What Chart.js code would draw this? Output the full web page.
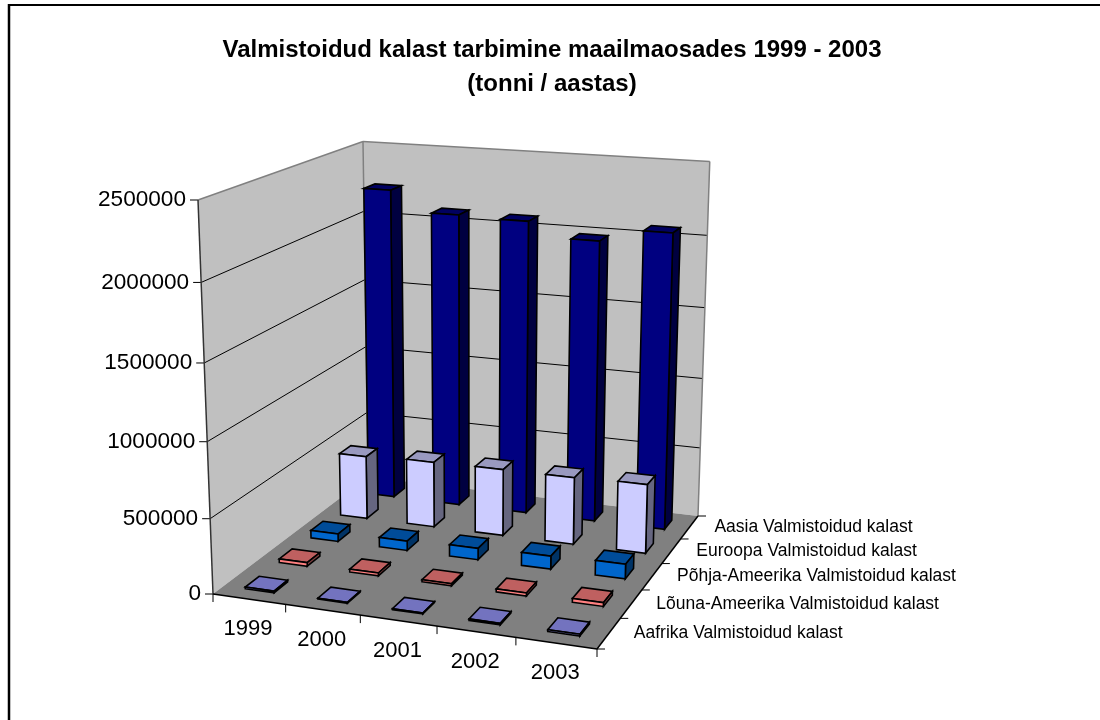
<!DOCTYPE html>
<html lang="en">
<head>
<meta charset="UTF-8">
<title>Valmistoidud kalast</title>
<script src="https://cdn.jsdelivr.net/npm/chart.js"></script>
<style>
    * { margin: 0; padding: 0; }
    body { background: white; width: 1100px; height: 720px; overflow: hidden; }
    canvas { display: block; }
</style>
</head>
<body>
<canvas id="myChart" width="1100" height="720"></canvas>
<script>
// data, front row first
const years = ['1999', '2000', '2001', '2002', '2003'];
const seriesNames = [
    'Aafrika Valmistoidud kalast',
    'Lõuna-Ameerika Valmistoidud kalast',
    'Põhja-Ameerika Valmistoidud kalast',
    'Euroopa Valmistoidud kalast',
    'Aasia Valmistoidud kalast'
];
const aafrika = [12000, 6000, 6000, 10000, 12000];
const louna = [25000, 20000, 14000, 20000, 25000];
const pohja = [53000, 66000, 79000, 90000, 100000];
const euroopa = [450000, 465000, 470000, 470000, 480000];
const aasia = [2230000, 2090000, 2080000, 1980000, 2070000];
const yTicks = [0, 500000, 1000000, 1500000, 2000000, 2500000];
const titleLines = ['Valmistoidud kalast tarbimine maailmaosades 1999 - 2003', '(tonni / aastas)'];

const rows = [aafrika, louna, pohja, euroopa, aasia];
const fronts = ['#9999ff', '#ff8080', '#0066cc', '#ccccff', '#000080'];
const tops = ['#7373bf', '#bf6060', '#004c99', '#9999bf', '#000060'];
const sides = ['#4c4c80', '#804040', '#003366', '#666680', '#000040'];

// corners of the plot box on the page, used for the perspective
const O = [213, 594], U = [597, 649], V = [368, 477], UV = [698, 516], W = [198, 200], VW = [363, 142];
const barFrac = 0.4;

function solve(a, b, c, d) {
    const dx1 = b[0] - c[0], dy1 = b[1] - c[1];
    const dx2 = d[0] - c[0], dy2 = d[1] - c[1];
    const sx = a[0] - b[0] + c[0] - d[0], sy = a[1] - b[1] + c[1] - d[1];
    const den = dx1 * dy2 - dx2 * dy1;
    return [(sx * dy2 - dx2 * sy) / den, (dx1 * sy - sx * dy1) / den];
}
const [p, q] = solve(O, U, UV, V);
const r = solve(O, V, VW, W)[1];

function proj(u, v, w) {
    const d = 1 + p * u + q * v + r * w;
    const f = i => (O[i] + u * ((1 + p) * U[i] - O[i]) + v * ((1 + q) * V[i] - O[i]) + w * ((1 + r) * W[i] - O[i])) / d;
    return [f(0), f(1)];
}

function poly(ctx, pts, fill, stroke, lw) {
    ctx.beginPath();
    pts.forEach((pt, i) => i ? ctx.lineTo(pt[0], pt[1]) : ctx.moveTo(pt[0], pt[1]));
    ctx.closePath();
    if (fill) { ctx.fillStyle = fill; ctx.fill(); }
    if (stroke) { ctx.strokeStyle = stroke; ctx.lineWidth = lw; ctx.stroke(); }
}

function line(ctx, a, b, color, lw) {
    ctx.beginPath();
    ctx.moveTo(a[0], a[1]);
    ctx.lineTo(b[0], b[1]);
    ctx.strokeStyle = color;
    ctx.lineWidth = lw;
    ctx.stroke();
}

function label(ctx, text, pt, align, font) {
    ctx.font = font;
    ctx.fillStyle = '#000';
    ctx.textAlign = align;
    ctx.textBaseline = 'middle';
    ctx.fillText(text, pt[0], pt[1]);
}

const box3d = {
    id: 'box3d',
    beforeDraw(chart) {
        const ctx = chart.ctx;
        ctx.fillStyle = 'white';
        ctx.fillRect(0, 0, 1100, 720);
        line(ctx, [8, 5], [1100, 5], '#000', 2);
        line(ctx, [9, 4], [9, 720], '#000', 2.5);
    },
    beforeDatasetsDraw(chart) {
        const ctx = chart.ctx;
        const sx = chart.scales.x, sy = chart.scales.y, sz = chart.scales.z;
        const nu = px => (px - sx.left) / sx.width;
        const nv = px => (px - sz.left) / sz.width;
        const nw = val => (sy.bottom - sy.getPixelForValue(val)) / sy.height;
        const cellU = nu(sx.getPixelForValue(1)) - nu(sx.getPixelForValue(0));
        const cellV = nv(sz.getPixelForValue(1)) - nv(sz.getPixelForValue(0));

        ctx.save();
        ctx.lineJoin = 'miter';

        // walls and floor
        poly(ctx, [proj(0, 1, 0), proj(1, 1, 0), proj(1, 1, 1), proj(0, 1, 1)], '#c0c0c0');
        poly(ctx, [proj(0, 0, 0), proj(0, 1, 0), proj(0, 1, 1), proj(0, 0, 1)], '#c0c0c0');
        poly(ctx, [proj(0, 0, 0), proj(1, 0, 0), proj(1, 1, 0), proj(0, 1, 0)], '#808080');

        // grid lines and value axis
        sy.ticks.forEach(t => {
            const w = nw(t.value);
            if (w > 0 && w < 1) {
                line(ctx, proj(0, 0, w), proj(0, 1, w), '#000', 1);
                line(ctx, proj(0, 1, w), proj(1, 1, w), '#000', 1);
            }
            const a = proj(0, 0, w);
            line(ctx, a, [a[0] - 8, a[1]], '#000', 1);
            label(ctx, t.label, [a[0] - 12, a[1]], 'right', '22.6px "Liberation Sans"');
        });
        line(ctx, proj(0, 0, 1), proj(0, 1, 1), '#808080', 1.5);
        line(ctx, proj(0, 1, 1), proj(1, 1, 1), '#808080', 1.5);
        line(ctx, proj(0, 1, 1), proj(0, 1, 0), '#808080', 1.5);
        line(ctx, proj(1, 1, 1), proj(1, 1, 0), '#808080', 1.5);
        line(ctx, proj(0, 0, 0), proj(0, 0, 1), '#333', 1.5);
        line(ctx, proj(0, 0, 0), proj(1, 0, 0), '#000', 1.5);
        line(ctx, proj(1, 0, 0), proj(1, 1, 0), '#000', 1.5);

        // category axis
        years.forEach((name, i) => {
            const u = nu(sx.getPixelForValue(i));
            const a = proj(u - cellU / 2, 0, 0);
            line(ctx, a, [a[0], a[1] + 8], '#000', 1);
            const m = proj(u, 0, 0);
            label(ctx, name, [m[0] - 1, m[1] + 30], 'center', '22px "Liberation Sans"');
        });
        const end = proj(1, 0, 0);
        line(ctx, end, [end[0], end[1] + 8], '#000', 1);

        // series axis
        seriesNames.forEach((name, j) => {
            const v = nv(sz.getPixelForValue(j));
            const a = proj(1, v + cellV / 2, 0);
            line(ctx, a, [a[0] + 8, a[1]], '#000', 1);
            const m = proj(1, v, 0);
            label(ctx, name, [m[0] + 25, m[1]], 'left', '17.5px "Liberation Sans"');
        });
        line(ctx, end, [end[0] + 8, end[1]], '#000', 1);

        // bars, back row first
        for (let j = rows.length - 1; j >= 0; j--) {
            const v = nv(sz.getPixelForValue(j));
            const v0 = v - cellV * barFrac / 2, v1 = v + cellV * barFrac / 2;
            rows[j].forEach((val, i) => {
                const u = nu(sx.getPixelForValue(i));
                const u0 = u - cellU * barFrac / 2, u1 = u + cellU * barFrac / 2;
                const w = nw(val);
                poly(ctx, [proj(u0, v0, w), proj(u1, v0, w), proj(u1, v1, w), proj(u0, v1, w)], tops[j], '#000', 1.6);
                poly(ctx, [proj(u1, v0, 0), proj(u1, v1, 0), proj(u1, v1, w), proj(u1, v0, w)], sides[j], '#000', 1.6);
                poly(ctx, [proj(u0, v0, 0), proj(u1, v0, 0), proj(u1, v0, w), proj(u0, v0, w)], fronts[j], '#000', 1.6);
            });
        }
        ctx.restore();
        return false;
    }
};

new Chart(document.getElementById('myChart'), {
    type: 'bar',
    data: {
        labels: years,
        datasets: rows.map((data, j) => ({ label: seriesNames[j], data: data, backgroundColor: fronts[j] }))
    },
    plugins: [box3d],
    options: {
        responsive: false,
        animation: false,
        layout: { padding: { left: 4 } },
        plugins: {
            legend: { display: false },
            tooltip: { enabled: false },
            title: {
                display: true,
                text: titleLines,
                color: '#000',
                font: { family: '"Liberation Sans"', size: 24, weight: 'bold', lineHeight: 1.4 },
                padding: { top: 34, bottom: 10 }
            }
        },
        scales: {
            x: { display: false, offset: true },
            z: { display: false, axis: 'x', type: 'category', labels: seriesNames, offset: true },
            y: {
                display: false,
                min: 0,
                max: 2500000,
                afterBuildTicks: s => { s.ticks = yTicks.map(v => ({ value: v })); },
                ticks: { callback: v => String(v) }
            }
        }
    }
});
</script>
</body>
</html>
